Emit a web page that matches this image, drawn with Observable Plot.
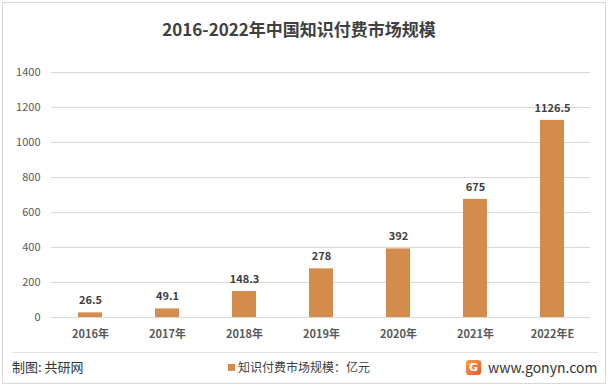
<!DOCTYPE html>
<html>
<head>
<meta charset="utf-8">
<script src="https://cdn.jsdelivr.net/npm/d3@7"></script>
<script src="https://cdn.jsdelivr.net/npm/@observablehq/plot@0.6"></script>
<style>
  html, body { margin: 0; padding: 0; background: #fff; }
  #wrap { position: relative; width: 610px; height: 387px; overflow: hidden; font-family: "Noto Sans CJK SC", "Noto Sans", sans-serif; }
  #frame { position: absolute; left: 2px; top: 2px; width: 604px; height: 382px; border: 1px solid #d9d9d9; box-sizing: border-box; }
  #title { position: absolute; left: 0; width: 598px; top: 17px; text-align: center; font-size: 17px; font-weight: bold; color: #404040; line-height: 24px; }
  #chart { position: absolute; left: 0; top: 0; }
  #sep { position: absolute; left: 12px; width: 586px; top: 352px; height: 1px; background: #e3e3e3; }
  #credit { position: absolute; left: 12px; top: 358px; font-size: 13px; color: #333; line-height: 18px; }
  #legend { position: absolute; left: 228px; top: 358px; font-size: 12px; color: #404040; line-height: 18px; display: flex; align-items: center; }
  #legend .sw { width: 7px; height: 7px; margin-right: 3px; }
  #site { position: absolute; left: 466px; top: 357px; display: flex; align-items: center; font-size: 14px; color: #333; line-height: 20px; }
  #site .logo { width: 15px; height: 15px; border-radius: 3px; background: linear-gradient(135deg,#f7a24a,#e8562c); color: #fff; font: bold 11px "DejaVu Sans", sans-serif; display: flex; align-items: center; justify-content: center; margin-right: 7px; }
</style>
</head>
<body>
<div id="wrap">
  <div id="frame"></div>
  <div id="chart"></div>
  <div id="title">2016-2022年中国知识付费市场规模</div>
  <div id="sep"></div>
  <div id="credit">制图: 共研网</div>
  <div id="legend"><div class="sw" id="sw"></div><span id="legtxt"></span></div>
  <div id="site"><div class="logo">G</div><span>www.gonyn.com</span></div>
</div>
<script>
const years = ["2016年", "2017年", "2018年", "2019年", "2020年", "2021年", "2022年E"];
const values = [26.5, 49.1, 148.3, 278, 392, 675, 1126.5];
const valueLabels = ["26.5", "49.1", "148.3", "278", "392", "675", "1126.5"];
const yTicks = [0, 200, 400, 600, 800, 1000, 1200, 1400];
const seriesName = "知识付费市场规模：亿元";
const barColor = "#d48c4c";

const data = years.map((y, i) => ({year: y, value: values[i], label: valueLabels[i]}));

document.getElementById("sw").style.background = barColor;
document.getElementById("legtxt").textContent = seriesName;

const chart = Plot.plot({
  width: 610,
  height: 352,
  marginLeft: 51,
  marginRight: 20,
  marginTop: 72,
  marginBottom: 35,
  style: {fontFamily: "'Noto Sans CJK SC', 'Noto Sans', sans-serif", background: "transparent", overflow: "visible"},
  x: {domain: years, paddingInner: 0.69, paddingOuter: 0.345, label: null, tickSize: 0},
  y: {domain: [0, 1400], ticks: yTicks, label: null, tickSize: 0, grid: false},
  marks: [
    Plot.gridY(yTicks, {stroke: "#d9d9d9", strokeOpacity: 1}),
    Plot.barY(data, {x: "year", y: "value", fill: barColor}),
    Plot.text(data, {x: "year", y: "value", text: "label", dy: -12, fontSize: 11, fontWeight: "bold", fill: "#404040"}),
    Plot.axisY(yTicks, {tickSize: 0, tickPadding: 11, fontSize: 11, fill: "#595959", label: null, tickFormat: d => String(d)}),
    Plot.axisX({tickSize: 0, tickPadding: 13, fontSize: 11, fontWeight: "bold", fill: "#595959", label: null})
  ]
});
document.getElementById("chart").appendChild(chart);
</script>
</body>
</html>
